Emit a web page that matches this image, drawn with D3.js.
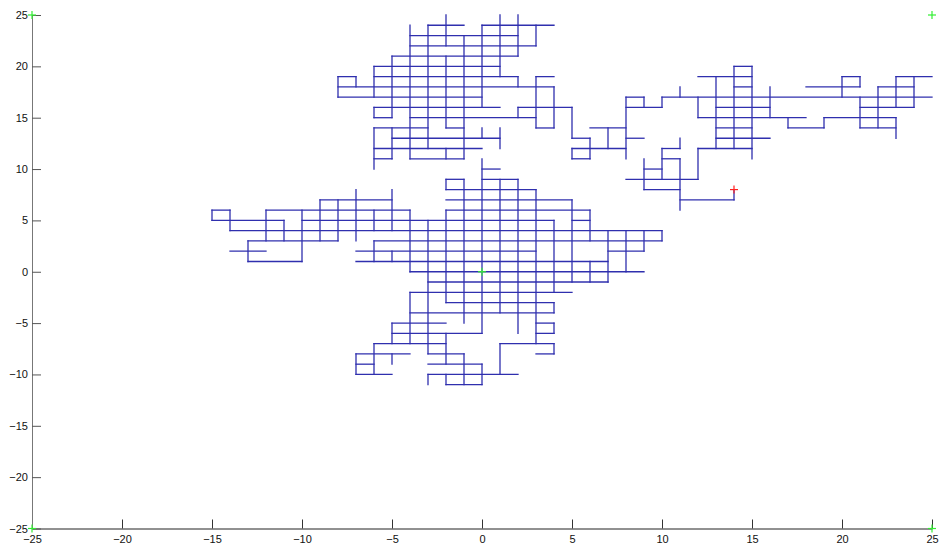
<!DOCTYPE html>
<html>
<head>
<meta charset="utf-8">
<script src="https://cdn.jsdelivr.net/npm/d3@7"></script>
<style>
  html, body { margin: 0; padding: 0; background: #fff; }
  svg { display: block; }
  text { font-family: "Liberation Sans", Arial, sans-serif; font-size: 11px; fill: #111; }
</style>
</head>
<body>
<svg id="chart" width="941" height="550"></svg>
<script>
// ---- data (lattice random-walk edges) ----
// horizontal edges: [y, x1, x2]
const horizontalEdges = [
  [7,-9,-5],[6,-15,-14],[6,-12,-4],[5,-15,-11],[5,-10,4],[5,5,6],
  [4,-14,10],[3,-13,-8],[3,-6,10],[2,-14,-12],[2,-7,3],[2,7,9],
  [1,-13,-10],[1,-7,7],[0,-4,9],
  [9,-2,-1],[9,0,2],[8,-2,3],[7,-2,5],[6,-2,6],
  [-1,-3,7],[-2,-4,5],[-3,-2,4],[-4,-4,4],[-5,-5,-2],[-5,3,4],
  [-6,-5,0],[-6,3,4],[-7,-6,-2],[-7,1,4],[-8,-7,-4],[-8,-3,-1],[-8,3,4],
  [-9,-7,-6],[-9,-3,0],[-10,-7,-5],[-10,-3,2],[-11,-2,0],
  [24,-3,-1],[24,0,4],[23,-4,2],[22,-4,3],[21,-5,2],[20,-6,1],
  [19,-8,-7],[19,-6,2],[19,3,4],[18,-8,4],[17,-8,0],[16,-6,1],[16,2,5],
  [15,-6,-5],[15,-4,3],[14,-6,-3],[14,-2,-1],[14,3,4],[14,6,8],
  [13,-5,1],[13,5,6],[13,8,9],[12,-6,0],[12,5,8],[12,10,11],
  [11,-6,-5],[11,-4,-1],[11,5,6],[11,10,11],[10,0,1],[10,9,10],
  [17,8,9],[17,10,25],[16,8,10],[16,13,16],[16,21,24],
  [9,8,12],[8,9,11],[7,11,14],
  [20,14,15],[19,12,15],[19,20,21],[19,23,25],
  [18,14,15],[18,18,21],[18,22,24],
  [15,12,18],[15,19,23],[14,13,15],[14,17,19],[14,21,23],
  [13,13,16],[12,12,15]
];
// vertical edges: [x, y1, y2]
const verticalEdges = [
  [-15,5,6],[-14,4,6],[-13,1,3],[-12,3,6],[-11,3,5],[-10,1,6],[-9,3,7],[-8,3,7],
  [-7,3,8],[-6,4,6],[-6,1,3],[-5,4,8],[-5,1,2],[-4,0,6],[-4,-7,-2],
  [-3,-8,5],[-3,-11,-10],[-2,-3,6],[-2,8,9],[-2,-9,-6],[-2,-11,-10],
  [-1,-5,9],[-1,-11,-8],[0,-6,11],[0,-11,-9],
  [1,-4,9],[1,-10,-7],[2,-6,9],[3,-7,8],
  [4,-2,5],[4,-4,-3],[4,-6,-5],[4,-8,-7],
  [5,-1,7],[6,3,6],[6,-1,1],[7,-1,4],[8,0,4],[9,2,4],[10,3,4],
  [-5,-7,-5],[-5,-9,-8],[-6,-10,-7],[-7,-10,-8],
  [-8,17,19],[-7,18,19],[-6,17,20],[-6,15,16],[-6,10,14],
  [-5,15,21],[-5,11,14],[-4,11,24],[-3,12,24],
  [-2,22,25],[-2,14,21],[-2,11,12],[-1,11,23],
  [0,16,24],[0,13,14],[1,19,25],[1,12,14],
  [2,21,25],[2,18,19],[2,15,16],[3,22,24],[3,14,19],[4,14,18],
  [5,13,16],[5,11,12],[6,11,13],[7,12,14],[8,11,17],
  [9,8,11],[9,16,17],[10,16,17],[10,9,12],
  [11,17,18],[11,12,13],[11,6,11],[12,15,17],[12,9,12],
  [13,12,19],[14,12,20],[14,7,8],[15,11,20],[16,15,18],[17,14,15],
  [19,14,15],[20,17,19],[21,18,19],[21,14,17],[22,14,18],
  [23,16,19],[23,13,15],[24,16,19]
];
const greenMarks = [[-25,25],[25,25],[-25,-25],[25,-25],[0,0]];
const endMark = [[14,8]];
const xTicks = [-25,-20,-15,-10,-5,0,5,10,15,20,25];
const yTicks = [-25,-20,-15,-10,-5,0,5,10,15,20,25];

// ---- drawing ----
const svg = d3.select("#chart");
const x = d3.scaleLinear().domain([-25, 25]).range([32, 932]);
const y = d3.scaleLinear().domain([-25, 25]).range([528.5, 15]);

const walk = svg.append("g")
  .attr("stroke", "#2f2fae").attr("stroke-width", 1.3)
  .attr("fill", "none").attr("stroke-linecap", "square");

walk.selectAll("line.h").data(horizontalEdges).join("line").attr("class", "h")
  .attr("x1", d => x(d[1])).attr("x2", d => x(d[2]))
  .attr("y1", d => y(d[0])).attr("y2", d => y(d[0]));
walk.selectAll("line.v").data(verticalEdges).join("line").attr("class", "v")
  .attr("x1", d => x(d[0])).attr("x2", d => x(d[0]))
  .attr("y1", d => y(d[1])).attr("y2", d => y(d[2]));

// axes
const xAxis = d3.axisBottom(x).tickValues(xTicks).tickSizeInner(-9).tickSizeOuter(0).tickPadding(13).tickFormat(d3.format("d"));
const yAxis = d3.axisLeft(y).tickValues(yTicks).tickSizeInner(-9).tickSizeOuter(0).tickPadding(13).tickFormat(d3.format("d"));

const gx = svg.append("g").attr("transform", `translate(0,${y(-25)})`).call(xAxis);
gx.select(".domain").attr("stroke", "#222");
gx.selectAll(".tick line").attr("stroke", "#333");
gx.selectAll("text").attr("dy", "0.35em").attr("y", 11);

const gy = svg.append("g").attr("transform", `translate(${x(-25)},0)`).call(yAxis);
gy.select(".domain").attr("stroke", "#777");
gy.selectAll(".tick line").attr("stroke", "#555");
gy.selectAll("text").attr("x", -4);

svg.selectAll(".tick text").style("font-family", "'Liberation Sans', Arial, sans-serif").style("font-size", "11px").attr("fill", "#111");

// markers
function plus(g, data, color) {
  const s = 4;
  const m = g.selectAll(null).data(data).join("g")
    .attr("transform", d => `translate(${x(d[0])},${y(d[1])})`)
    .attr("stroke", color).attr("stroke-width", 1.2);
  m.append("line").attr("x1", -s).attr("x2", s).attr("y1", 0).attr("y2", 0);
  m.append("line").attr("x1", 0).attr("x2", 0).attr("y1", -s).attr("y2", s);
}
plus(svg.append("g"), greenMarks, "#33ee33");
plus(svg.append("g"), endMark, "#ff2020");
</script>
</body>
</html>
